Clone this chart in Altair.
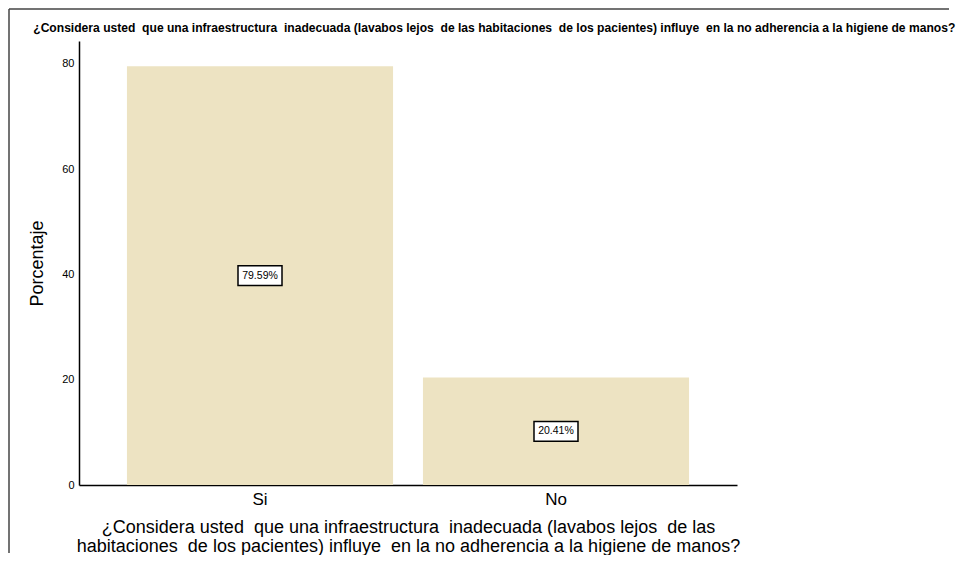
import altair as alt
import pandas as pd

categories = ["Si", "No"]
values = [79.59, 20.41]
labels = ["79.59%", "20.41%"]

NB = "\u00a0"
title_text = ("¿Considera usted " + NB + "que una infraestructura " + NB + "inadecuada (lavabos lejos " + NB + "de las "
              "habitaciones " + NB + "de los pacientes) influye " + NB + "en la no adherencia a la higiene de manos?")
x_title = ["¿Considera usted " + NB + "que una infraestructura " + NB + "inadecuada (lavabos lejos " + NB + "de las",
           "habitaciones " + NB + "de los pacientes) influye " + NB + "en la no adherencia a la higiene de manos?"]

df = pd.DataFrame({"cat": categories, "val": values, "label": labels})
df["mid"] = df["val"] / 2

FONT = "Liberation Sans, Arial, sans-serif"
W, H = 658, 444

x_enc = alt.X("cat:N", sort=categories,
              scale=alt.Scale(paddingInner=0.101, paddingOuter=0.162),
              axis=alt.Axis(title=x_title, labelAngle=0, ticks=False, labelFont=FONT,
                            labelFontSize=17, labelColor="black", labelPadding=6,
                            titleFont=FONT, titleFontSize=18, titleFontWeight="normal",
                            titleColor="black", titlePadding=11, titleLineHeight=19,
                            domainColor="black", domainWidth=1.5))

bars = alt.Chart(df).mark_bar(color="#EDE3C2").encode(
    x=x_enc,
    y=alt.Y("val:Q", scale=alt.Scale(domain=[0, 84.37], nice=False),
            axis=alt.Axis(title="Porcentaje", values=[0, 20, 40, 60, 80], ticks=False,
                          grid=False, labelFont=FONT, labelFontSize=11, labelColor="black",
                          labelPadding=5, titleFont=FONT, titleFontSize=18,
                          titleFontWeight="normal", titleColor="black", titlePadding=15,
                          domainColor="black", domainWidth=1.5)),
)

box_shape = "M-1,-0.45L1,-0.45L1,0.45L-1,0.45Z"
boxes = alt.Chart(df).mark_point(shape=box_shape, size=44 * 44, filled=True, fill="white",
                                 stroke="black", strokeWidth=1.5, opacity=1).encode(
    x=alt.X("cat:N", sort=categories),
    y=alt.Y("mid:Q"),
)

texts = alt.Chart(df).mark_text(font=FONT, fontSize=10.5, color="black").encode(
    x=alt.X("cat:N", sort=categories),
    y=alt.Y("mid:Q"),
    text="label:N",
)

frame_df = pd.DataFrame({"a": [0]})
frame_left = alt.Chart(frame_df).mark_rule(color="#444444", strokeWidth=1.5).encode(
    x=alt.value(-70), y=alt.value(-32), y2=alt.value(512))
frame_top = alt.Chart(frame_df).mark_rule(color="#444444", strokeWidth=1.5).encode(
    x=alt.value(-70), x2=alt.value(870), y=alt.value(-32))

chart = alt.layer(bars, boxes, texts, frame_left, frame_top).properties(
    width=W, height=H,
    padding={"left": 0, "top": 0, "right": 0, "bottom": 0},
    title=alt.TitleParams(text=title_text, anchor="start", dx=25, offset=-26,
                          font=FONT, fontSize=12.1, fontWeight="bold", color="black"),
).configure_view(stroke=None)

chart.save("out.html", embed_options={"renderer": "svg", "actions": False})
